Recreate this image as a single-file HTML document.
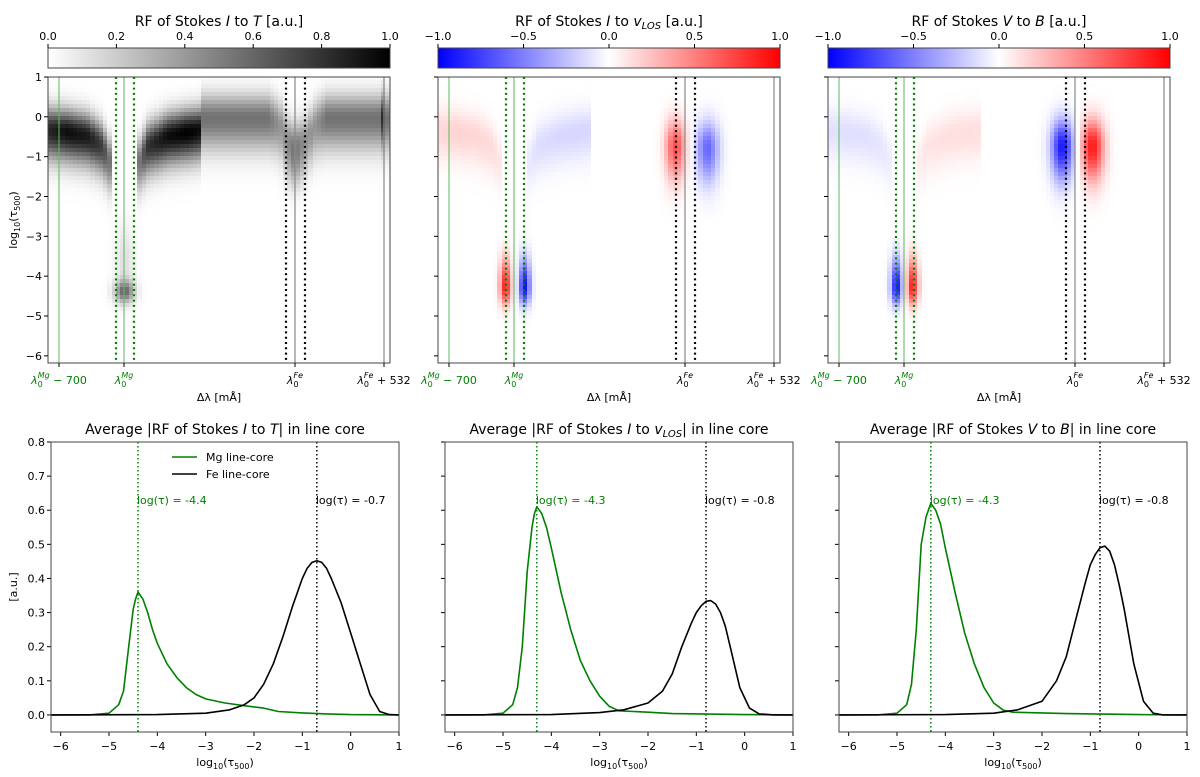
<!DOCTYPE html>
<html><head><meta charset="utf-8">
<style>
html,body{margin:0;padding:0;background:#fff;}
#wrap{position:relative;width:1200px;height:777px;overflow:hidden;font-family:"DejaVu Sans","Liberation Sans",sans-serif;}
canvas{position:absolute;image-rendering:pixelated;}
svg{position:absolute;left:0;top:0;}
text{font-family:"DejaVu Sans","Liberation Sans",sans-serif;}
</style></head>
<body>
<div id="wrap">
<canvas id="h0" width="342" height="286" style="left:48px;top:77px"></canvas>
<canvas id="h1" width="342" height="286" style="left:438px;top:77px"></canvas>
<canvas id="h2" width="342" height="286" style="left:828px;top:77px"></canvas>
<canvas id="c0" width="342" height="20" style="left:48px;top:48px"></canvas>
<canvas id="c1" width="342" height="20" style="left:438px;top:48px"></canvas>
<canvas id="c2" width="342" height="20" style="left:828px;top:48px"></canvas>
<svg id="s" width="1200" height="777"></svg>
</div>
<script>
// ---------- line chart data (bottom row) ----------
const mgX1 = [-6.2,-5.4,-5.0,-4.8,-4.7,-4.6,-4.5,-4.45,-4.4,-4.35,-4.3,-4.2,-4.1,-4.0,-3.8,-3.6,-3.4,-3.2,-3.0,-2.6,-2.2,-1.8,-1.5,-1.0,-0.5,0,1];
const mgY1 = [0,0,0.005,0.03,0.07,0.19,0.31,0.34,0.36,0.35,0.34,0.3,0.25,0.21,0.15,0.11,0.08,0.06,0.047,0.035,0.027,0.02,0.01,0.006,0.003,0.001,0];
const feX1 = [-6.2,-4,-3,-2.5,-2.2,-2.0,-1.8,-1.6,-1.4,-1.2,-1.0,-0.9,-0.8,-0.7,-0.6,-0.5,-0.4,-0.2,0,0.2,0.4,0.6,0.8,1];
const feY1 = [0,0.001,0.005,0.015,0.03,0.05,0.09,0.15,0.23,0.32,0.40,0.43,0.447,0.452,0.447,0.43,0.40,0.33,0.24,0.15,0.06,0.01,0.001,0];
const mgX2 = [-6.2,-5.4,-5.0,-4.8,-4.7,-4.6,-4.5,-4.4,-4.35,-4.3,-4.25,-4.2,-4.1,-4.0,-3.8,-3.6,-3.4,-3.2,-3.0,-2.8,-2.6,-2.0,-1.5,0,1];
const mgY2 = [0,0,0.005,0.03,0.08,0.2,0.42,0.55,0.59,0.61,0.6,0.59,0.55,0.49,0.36,0.25,0.16,0.1,0.055,0.025,0.012,0.008,0.004,0.001,0];
const feX2 = [-6.2,-4,-3,-2.5,-2.0,-1.7,-1.5,-1.3,-1.1,-1.0,-0.9,-0.8,-0.7,-0.6,-0.5,-0.4,-0.3,-0.1,0.1,0.3,0.6,1];
const feY2 = [0,0.001,0.007,0.015,0.035,0.07,0.12,0.2,0.27,0.3,0.32,0.333,0.335,0.325,0.3,0.26,0.2,0.08,0.02,0.003,0,0];
const mgX3 = [-6.2,-5.4,-5.0,-4.8,-4.7,-4.6,-4.5,-4.4,-4.35,-4.3,-4.25,-4.2,-4.1,-4.0,-3.8,-3.6,-3.4,-3.2,-3.0,-2.8,-2.6,-2.0,-1.5,0,1];
const mgY3 = [0,0,0.005,0.03,0.09,0.25,0.5,0.58,0.6,0.62,0.61,0.6,0.56,0.49,0.36,0.24,0.15,0.08,0.035,0.014,0.008,0.006,0.004,0.001,0];
const feX3 = [-6.2,-4,-3,-2.5,-2.0,-1.7,-1.5,-1.3,-1.1,-1.0,-0.9,-0.8,-0.7,-0.6,-0.5,-0.4,-0.3,-0.1,0.1,0.3,0.5,1];
const feY3 = [0,0.001,0.005,0.015,0.04,0.1,0.17,0.28,0.39,0.44,0.47,0.49,0.495,0.48,0.44,0.38,0.31,0.15,0.04,0.005,0,0];
const peakMg = [-4.4,-4.3,-4.3];
const peakFe = [-0.7,-0.8,-0.8];
const xTicks = [-6,-5,-4,-3,-2,-1,0,1];
const yTicks = [0.0,0.1,0.2,0.3,0.4,0.5,0.6,0.7,0.8];
const tauTicks = [1,0,-1,-2,-3,-4,-5,-6];

// ---------- heatmap model components (x offset px within panel, tau) ----------
const wingLX = [0,20,40,55,62,66];
const wingLC = [-0.35,-0.4,-0.5,-0.75,-1.1,-1.5];
const wingLA = [0.85,0.95,0.9,0.75,0.55,0.3];
const wingRX = [88,92,100,120,140,153];
const wingRC = [-1.5,-1.1,-0.75,-0.5,-0.4,-0.35];
const wingRA = [0.3,0.55,0.8,0.95,1.0,0.95];
const feBandX = [153,220,232,240,247,258,268,280,342];
const feBandC = [-0.05,-0.05,-0.2,-0.6,-0.75,-0.6,-0.2,-0.05,-0.05];
const feBandA = [0.55,0.55,0.42,0.42,0.45,0.42,0.42,0.55,0.55];
// blobs: [x, tau, sx, stUp, stDown, amp]
const blobsT = [[77,-4.4,7,0.2,0.2,0.55],[77,-3.6,7,0.6,0.6,0.12],[336,0,1.2,0.4,0.5,0.3],[247,-1.3,6,0.5,0.4,0.15]];
const blobsV = [[68,-4.3,4,0.5,0.3,0.9],[87,-4.3,4,0.5,0.3,-0.95],[238,-0.75,7,0.45,0.6,0.7],[270,-0.8,8,0.45,0.6,-0.6]];
const blobsB = [[69,-4.3,4,0.5,0.3,-0.95],[85,-4.3,4,0.5,0.3,0.9],[235,-0.75,8,0.45,0.6,-0.9],[265,-0.75,8,0.45,0.6,0.9]];
const wingAmp = [[1,1,1],[0.18,-0.16,0],[-0.13,0.13,0]];

const NS='http://www.w3.org/2000/svg';
const svg=document.getElementById('s');
function el(tag,attrs,parent){const e=document.createElementNS(NS,tag);for(const k in attrs)e.setAttribute(k,attrs[k]);(parent||svg).appendChild(e);return e;}
function interp(xs,ys,x){if(x<=xs[0])return ys[0];for(let i=1;i<xs.length;i++){if(x<=xs[i]){const t=(x-xs[i-1])/(xs[i]-xs[i-1]);return ys[i-1]+t*(ys[i]-ys[i-1]);}}return ys[ys.length-1];}

// ---------- heatmaps ----------
const NC=80, NR=72, PW=342, PH=286, TAUTOP=1, TAUBOT=-6.18;
function tauToY(t){return (TAUTOP-t)/(TAUTOP-TAUBOT)*PH;}
function evalCell(p,x,t){
  let v=0;
  const g=(c,su,sd,tt)=>{const s=tt>c?su:sd;return Math.exp(-0.5*((tt-c)/s)**2);};
  if(x>=wingLX[0]&&x<=wingLX[wingLX.length-1]) v+=wingAmp[p][0]*interp(wingLX,wingLA,x)*g(interp(wingLX,wingLC,x),0.38,0.5,t);
  if(x>=wingRX[0]&&x<wingRX[wingRX.length-1]) v+=wingAmp[p][1]*interp(wingRX,wingRA,x)*g(interp(wingRX,wingRC,x),0.38,0.5,t);
  if(x>=153) v+=wingAmp[p][2]*interp(feBandX,feBandA,x)*g(interp(feBandX,feBandC,x),0.4,0.55,t);
  const bl=[blobsT,blobsV,blobsB][p];
  for(const b of bl){const s=t>b[1]?b[3]:b[4];v+=b[5]*Math.exp(-0.5*((x-b[0])/b[2])**2-0.5*((t-b[1])/s)**2);}
  return v;
}
function gray(v){v=Math.max(0,Math.min(1,v));const c=Math.round(255*(1-v));return 'rgb('+c+','+c+','+c+')';}
function bwr(v){v=Math.max(-1,Math.min(1,v));if(v>=0){const c=Math.round(255*(1-v));return 'rgb(255,'+c+','+c+')';}const c=Math.round(255*(1+v));return 'rgb('+c+','+c+',255)';}
for(let p=0;p<3;p++){
  const ctx=document.getElementById('h'+p).getContext('2d');
  const cw=PW/NC, rh=PH/NR;
  for(let i=0;i<NC;i++)for(let j=0;j<NR;j++){
    const x=(i+0.5)*cw, t=TAUTOP-(j+0.5)*(TAUTOP-TAUBOT)/NR;
    const v=evalCell(p,x,t);
    ctx.fillStyle=p===0?gray(v):bwr(v);
    ctx.fillRect(Math.floor(i*cw),Math.floor(j*rh),Math.ceil(cw)+1,Math.ceil(rh)+1);
  }
  const cb=document.getElementById('c'+p).getContext('2d');
  for(let k=0;k<PW;k++){const f=k/(PW-1);cb.fillStyle=p===0?gray(f):bwr(2*f-1);cb.fillRect(k,0,1,20);}
}

// ---------- top panel overlays ----------
const topTitles=[['RF of Stokes ','I',' to ','T',' [a.u.]'],['RF of Stokes ','I',' to ','v','LOS',' [a.u.]'],['RF of Stokes ','V',' to ','B',' [a.u.]']];
const cbTicks=[[0,0.2,0.4,0.6,0.8,1.0],[-1,-0.5,0,0.5,1],[-1,-0.5,0,0.5,1]];
const cbLabels=[['0.0','0.2','0.4','0.6','0.8','1.0'],['\u22121.0','\u22120.5','0.0','0.5','1.0'],['\u22121.0','\u22120.5','0.0','0.5','1.0']];
for(let p=0;p<3;p++){
  const L=48+390*p,T=77;
  const g=el('g',{});
  
  
  el('rect',{x:L,y:48,width:PW,height:20,fill:'none',stroke:'#444','stroke-width':1},g);
  const lo=p===0?0:-1;
  cbTicks[p].forEach((v,k)=>{const x=L+(v-lo)/(1-lo)*PW;el('line',{x1:x,x2:x,y1:44,y2:48,stroke:'#000'},g);
    const t=el('text',{x:x,y:40,'text-anchor':'middle','font-size':11},g);t.textContent=cbLabels[p][k];});
  const tt=el('text',{x:L+PW/2,y:26,'text-anchor':'middle','font-size':14},g);
  
  
  const parts=topTitles[p];
  parts.forEach((s,k)=>{const sp=el('tspan',{},tt);sp.textContent=s;
    if(s==='I'||s==='T'||s==='V'||s==='B'||s==='v')sp.setAttribute('font-style','italic');
    if(s==='LOS'){sp.setAttribute('font-size',10);sp.setAttribute('font-style','italic');sp.setAttribute('dy',3);}
    if(k>0&&parts[k-1]==='LOS')sp.setAttribute('dy',-3);});
  el('line',{x1:L+11,x2:L+11,y1:T,y2:T+PH,stroke:'#5cb85c','stroke-width':1},g);
  el('line',{x1:L+76,x2:L+76,y1:T,y2:T+PH,stroke:'#5cb85c','stroke-width':1},g);
  el('line',{x1:L+68,x2:L+68,y1:T,y2:T+PH,stroke:'green','stroke-width':2.2,'stroke-dasharray':'2,3.3'},g);
  el('line',{x1:L+86,x2:L+86,y1:T,y2:T+PH,stroke:'green','stroke-width':2.2,'stroke-dasharray':'2,3.3'},g);
  el('line',{x1:L+247,x2:L+247,y1:T,y2:T+PH,stroke:'#888','stroke-width':1.2},g);
  el('line',{x1:L+336,x2:L+336,y1:T,y2:T+PH,stroke:'#888','stroke-width':1.2},g);
  el('line',{x1:L+238,x2:L+238,y1:T,y2:T+PH,stroke:'#000','stroke-width':2.2,'stroke-dasharray':'2,3.3'},g);
  el('line',{x1:L+257,x2:L+257,y1:T,y2:T+PH,stroke:'#000','stroke-width':2.2,'stroke-dasharray':'2,3.3'},g);
  el('rect',{x:L,y:T,width:PW,height:PH,fill:'none',stroke:'#444','stroke-width':1},g);
  tauTicks.forEach(v=>{const y=T+tauToY(v);el('line',{x1:L-4,x2:L,y1:y,y2:y,stroke:'#000'},g);
    if(p===0){const t=el('text',{x:L-6,y:y+4,'text-anchor':'end','font-size':11},g);t.textContent=(v<0?'\u2212':'')+Math.abs(v);}});
  const xl=[[11,'green','\u03bb','Mg',' \u2212 700'],[76,'green','\u03bb','Mg',''],[247,'#000','\u03bb','Fe',''],[336,'#000','\u03bb','Fe',' + 532']];
  xl.forEach(a=>{el('line',{x1:L+a[0],x2:L+a[0],y1:T+PH,y2:T+PH+4,stroke:'#000'},g);
    const t=el('text',{x:L+a[0],y:384,'text-anchor':'middle','font-size':11,fill:a[1]},g);
    const s1=el('tspan',{'font-style':'italic'},t);s1.textContent=a[2];
    const s2=el('tspan',{'font-size':8,dy:3},t);s2.textContent='0';
    const s3=el('tspan',{'font-size':8,dy:-9,dx:-5,'font-style':'italic'},t);s3.textContent=a[3];
    const s4=el('tspan',{dy:6},t);s4.textContent=a[4];});
  const xlab=el('text',{x:L+PW/2,y:401,'text-anchor':'middle','font-size':11},g);xlab.textContent='\u0394\u03bb [m\u00c5]';
}
const yl=el('text',{x:0,y:0,'text-anchor':'middle','font-size':11,transform:'translate(17,220) rotate(-90)'});


yl.innerHTML='log<tspan font-size="8" dy="3">10</tspan><tspan dy="-3">(\u03c4</tspan><tspan font-size="8" dy="3">500</tspan><tspan dy="-3">)</tspan>';

// ---------- bottom line charts ----------
const botTitles=['Average |RF of Stokes <tspan font-style="italic">I</tspan> to <tspan font-style="italic">T</tspan>| in line core',
 'Average |RF of Stokes <tspan font-style="italic">I</tspan> to <tspan font-style="italic">v</tspan><tspan font-size="10" font-style="italic" dy="3">LOS</tspan><tspan dy="-3">| in line core</tspan>',
 'Average |RF of Stokes <tspan font-style="italic">V</tspan> to <tspan font-style="italic">B</tspan>| in line core'];
const mgXs=[mgX1,mgX2,mgX3],mgYs=[mgY1,mgY2,mgY3],feXs=[feX1,feX2,feX3],feYs=[feY1,feY2,feY3];
const BW=348,BT=442,BB=732,XMIN=-6.2,XMAX=1,YMIN=-0.05,YMAX=0.8;
for(let p=0;p<3;p++){
  const L=51+394*p;
  const sx=v=>L+(v-XMIN)/(XMAX-XMIN)*BW;
  const sy=v=>BB-(v-YMIN)/(YMAX-YMIN)*(BB-BT);
  const g=el('g',{});
  
  
  const tt=el('text',{x:L+BW/2,y:434,'text-anchor':'middle','font-size':14},g);tt.innerHTML=botTitles[p];
  xTicks.forEach(v=>{const x=sx(v);el('line',{x1:x,x2:x,y1:BB,y2:BB+4,stroke:'#000'},g);
    const t=el('text',{x:x,y:750,'text-anchor':'middle','font-size':11},g);t.textContent=(v<0?'\u2212':'')+Math.abs(v);});
  yTicks.forEach(v=>{const y=sy(v);el('line',{x1:L-4,x2:L,y1:y,y2:y,stroke:'#000'},g);
    if(p===0){const t=el('text',{x:L-6,y:y+4,'text-anchor':'end','font-size':11},g);t.textContent=v.toFixed(1);}});
  const xl=el('text',{x:L+BW/2,y:766,'text-anchor':'middle','font-size':11},g);
  xl.innerHTML='log<tspan font-size="8" dy="3">10</tspan><tspan dy="-3">(\u03c4</tspan><tspan font-size="8" dy="3">500</tspan><tspan dy="-3">)</tspan>';
  const xm=sx(peakMg[p]),xf=sx(peakFe[p]);
  el('line',{x1:xm,x2:xm,y1:BT,y2:BB,stroke:'green','stroke-width':1.5,'stroke-dasharray':'1.5,2.5'},g);
  el('line',{x1:xf,x2:xf,y1:BT,y2:BB,stroke:'#000','stroke-width':1.5,'stroke-dasharray':'1.5,2.5'},g);
  const am=el('text',{x:xm-1,y:sy(0.63)+4,'font-size':11,fill:'green'},g);am.textContent='log(\u03c4) = '+peakMg[p];
  
  const af=el('text',{x:xf-1,y:sy(0.63)+4,'font-size':11,fill:'#000'},g);af.textContent='log(\u03c4) = '+peakFe[p];
  
  const path=(xs,ys)=>xs.map((x,i)=>(i?'L':'M')+sx(x).toFixed(1)+','+sy(ys[i]).toFixed(1)).join('');
  const lm=el('path',{d:path(mgXs[p],mgYs[p]),fill:'none',stroke:'green','stroke-width':1.6,'stroke-linejoin':'round'},g);
  
  
  const lf=el('path',{d:path(feXs[p],feYs[p]),fill:'none',stroke:'#000','stroke-width':1.6,'stroke-linejoin':'round'},g);
  
  
  el('rect',{x:L,y:BT,width:BW,height:BB-BT,fill:'none',stroke:'#444','stroke-width':1},g);
}
const ylb=el('text',{x:0,y:0,'text-anchor':'middle','font-size':11,transform:'translate(17,587) rotate(-90)'});

ylb.textContent='[a.u.]';
const lg=el('g',{});


el('line',{x1:172,x2:197,y1:457,y2:457,stroke:'green','stroke-width':1.6},lg);
el('line',{x1:172,x2:197,y1:474,y2:474,stroke:'#000','stroke-width':1.6},lg);
const l1=el('text',{x:206,y:461,'font-size':11},lg);l1.textContent='Mg line-core';
const l2=el('text',{x:206,y:478,'font-size':11},lg);l2.textContent='Fe line-core';
</script>
</body></html>
